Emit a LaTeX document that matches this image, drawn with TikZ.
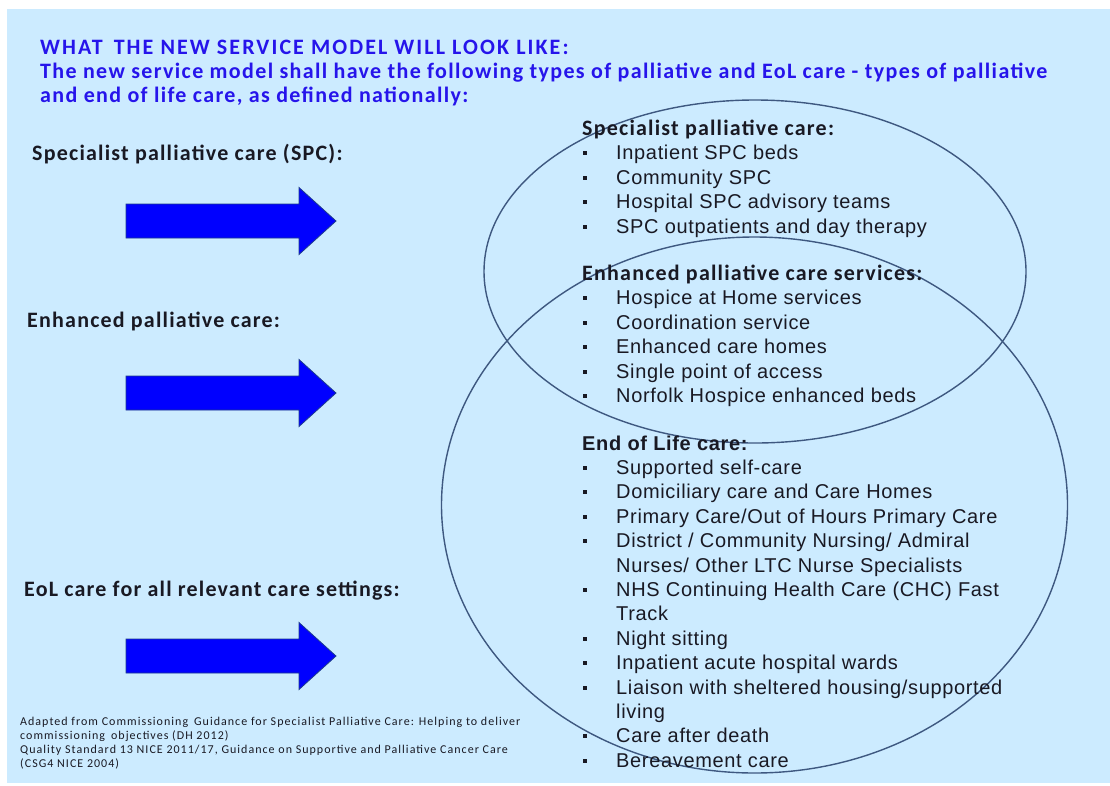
\documentclass[tikz,border=0pt]{standalone}
\usepackage{fontspec}
\setmainfont[LetterSpace=3.3]{Liberation Sans}
\newfontfamily\calibri[LetterSpace=5.5]{Carlito}
\newfontfamily\titlefont[LetterSpace=6.2]{Carlito}
\newfontfamily\capsfont[LetterSpace=9.5]{Carlito}
\newfontfamily\notefont[LetterSpace=8.5]{Carlito}
\usetikzlibrary{shapes, arrows, positioning, calc}

\definecolor{slidebg}{RGB}{204,235,255}
\definecolor{ringline}{RGB}{62,88,128}
\definecolor{titleblue}{RGB}{38,20,235}
\definecolor{arrowedge}{RGB}{30,60,140}
\definecolor{inkdark}{RGB}{25,25,35}

\tikzset{
  titletxt/.style={anchor=base west, inner sep=0pt, text=titleblue, font=\titlefont\bfseries\fontsize{22}{26}\selectfont},
  sidelabel/.style={anchor=base west, inner sep=0pt, text=inkdark, font=\calibri\bfseries\fontsize{22}{26}\selectfont},
  listhead/.style={anchor=base west, inner sep=0pt, text=inkdark, font=\calibri\bfseries\fontsize{22}{26}\selectfont},
  listitem/.style={anchor=base west, inner sep=0pt, text=inkdark, font=\fontsize{20}{24}\selectfont},
  bulletsq/.style={rectangle, fill=inkdark, inner sep=0pt, minimum size=4pt},
  smallnote/.style={anchor=base west, inner sep=0pt, text=inkdark, font=\notefont\fontsize{12}{14}\selectfont},
  ring/.style={ellipse, draw=ringline, line width=1.4pt, inner sep=0pt},
  bluearrow/.style={fill=blue, draw=arrowedge, line width=0.8pt},
}

\begin{document}
\begin{tikzpicture}[x=1pt, y=-1pt]
  \useasboundingbox (0,0) rectangle (1110,785);
  \fill[slidebg] (7,9) rectangle (1110,783);

  % heading
  \node[titletxt, font=\capsfont\bfseries\fontsize{22}{26}\selectfont] (title1) at (40,54) {WHAT\enspace THE NEW SERVICE MODEL WILL LOOK LIKE:};
  \node[titletxt] (title2) at (40,78) {The new service model shall have the following types of palliative and EoL care - types of palliative};
  \node[titletxt] (title3) at (40,102) {and end of life care, as defined nationally:};

  % the two overlapping rings
  \node[ring, minimum width=542pt, minimum height=343pt] (spcring) at (755,271.5) {};
  \node[ring, minimum width=626pt, minimum height=536pt] (eolring) at (754.5,505) {};

  % left labels and arrows
  \node[sidelabel] (lblspc) at (32,160) {Specialist palliative care (SPC):};
  \node[sidelabel] (lblenh) at (27,327) {Enhanced palliative care:};
  \node[sidelabel] (lbleol) at (24,596) {EoL care for all relevant care settings:};
  \foreach \y in {221,393,656}
    \draw[bluearrow] (126,\y-17) -- (299,\y-17) -- (299,\y-33.5) -- (336,\y)
      -- (299,\y+33.5) -- (299,\y+17) -- (126,\y+17) -- cycle;

  % specialist list
  \node[listhead] (spchead) at (582,135) {Specialist palliative care:};
  \foreach \txt [count=\i] in {Inpatient SPC beds, Community SPC,
      Hospital SPC advisory teams, SPC outpatients and day therapy} {
    \node[listitem] (spc\i) at (616,135+24.5*\i) {\txt};
    \node[bulletsq] (spcb\i) at (585,128.5+24.5*\i) {};
  }

  % enhanced list
  \node[listhead] (enhhead) at (582,280) {Enhanced palliative care services:};
  \foreach \txt [count=\i] in {Hospice at Home services, Coordination service,
      Enhanced care homes, Single point of access, Norfolk Hospice enhanced beds} {
    \node[listitem] (enh\i) at (616,280+24.5*\i) {\txt};
    \node[bulletsq] (enhb\i) at (585,273.5+24.5*\i) {};
  }

  % end of life list
  \node[listhead, font=\bfseries\fontsize{20}{24}\selectfont] (eolhead) at (582,450) {End of Life care:};
  \foreach \txt [count=\i] in {{Supported self-care}, {Domiciliary care and Care Homes},
      {Primary Care/Out of Hours Primary Care}, {District / Community Nursing/ Admiral},
      {Nurses/ Other LTC Nurse Specialists}, {NHS Continuing Health Care (CHC) Fast},
      {Track}, {Night sitting}, {Inpatient acute hospital wards},
      {Liaison with sheltered housing/supported}, {living}, {Care after death},
      {Bereavement care}}
    \node[listitem] (eol\i) at (616,450.1+24.4*\i) {\txt};
  \foreach \i in {1,2,3,4,6,8,9,10,12,13}
    \node[bulletsq] (eolb\i) at (585,443.6+24.4*\i) {};

  % sources
  \node[smallnote] (src1) at (20,725) {Adapted from Commissioning\enspace Guidance for Specialist Palliative Care: Helping to deliver};
  \node[smallnote] (src2) at (20,739) {commissioning\enspace objectives (DH 2012)};
  \node[smallnote] (src3) at (20,753) {Quality Standard 13 NICE 2011/17, Guidance on Supportive and Palliative Cancer Care};
  \node[smallnote] (src4) at (20,767) {(CSG4 NICE 2004)};
\end{tikzpicture}
\end{document}
